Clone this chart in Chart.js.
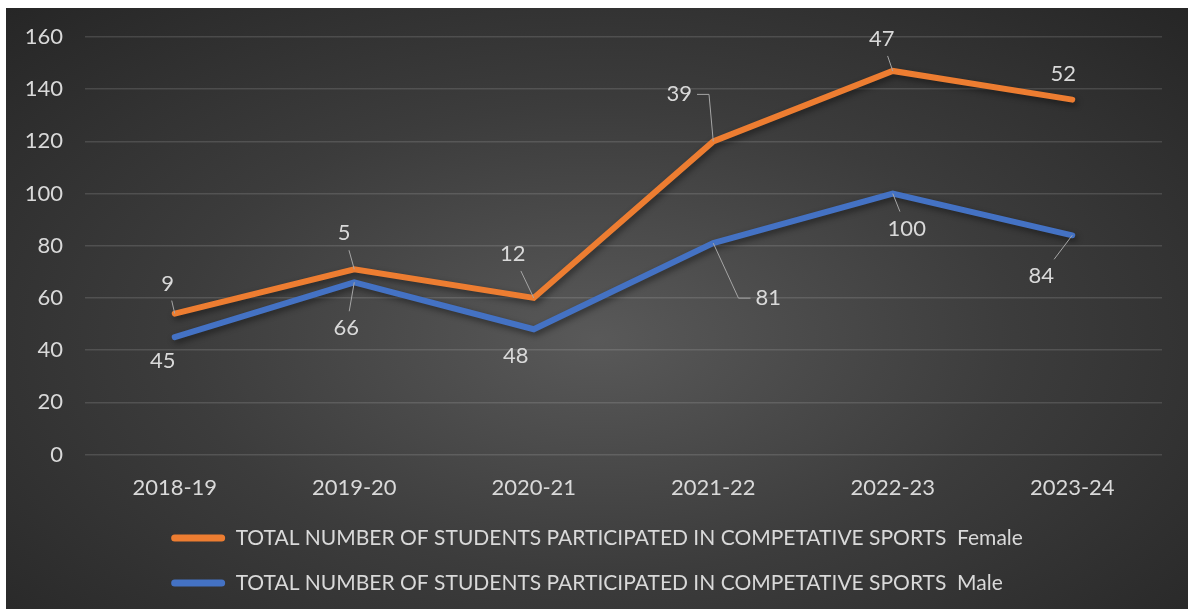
<!DOCTYPE html>
<html>
<head>
<meta charset="utf-8">
<title>Competitive sports participation</title>
<script src="https://cdn.jsdelivr.net/npm/chart.js@4/dist/chart.umd.min.js"></script>
<style>
  html, body { margin: 0; padding: 0; background: #ffffff; }
  #panel {
    position: absolute;
    left: 6px;
    top: 8px;
    width: 1182px;
    height: 601px;
    background: radial-gradient(ellipse farthest-corner at 50% 55%, #595959 0%, #3c3c3c 50%, #262626 100%);
  }
</style>
</head>
<body>
<div id="panel"><canvas id="sportsChart"></canvas></div>
<script>
// Academic years and participant counts
const years = ['2018-19', '2019-20', '2020-21', '2021-22', '2022-23', '2023-24'];
const maleCounts = [45, 66, 48, 81, 100, 84];
const femaleCounts = [9, 5, 12, 39, 47, 52];
const yMin = 0;
const yMax = 160;
const yStep = 20;

const seriesPrefix = 'TOTAL NUMBER OF STUDENTS PARTICIPATED IN COMPETATIVE SPORTS  ';

const textColor = '#d9d9d9';
const fontFamily = 'Lato, "Open Sans", sans-serif';

// label placement relative to its point: [dx, dy, leader]
const maleLabelPos = [[-12, 24, ''], [-8, 46, 'line'], [-18, 27, ''], [55, 55, 'elbow'], [14, 35, 'line'], [-31, 41, 'line']];
const femaleLabelPos = [[-7, -30, 'line'], [-10, -36, 'line'], [-21, -44, 'line'], [-34, -47, 'elbow'], [-11, -32, 'line'], [-9, -26, '']];

// soft drop shadow under the lines
const lineShadow = {
    id: 'lineShadow',
    beforeDatasetsDraw(chart) {
        const ctx = chart.ctx;
        ctx.save();
        ctx.shadowColor = 'rgba(0, 0, 0, 0.45)';
        ctx.shadowBlur = 6;
        ctx.shadowOffsetX = 2;
        ctx.shadowOffsetY = 3;
    },
    afterDatasetsDraw(chart) {
        chart.ctx.restore();
    }
};

// give every legend row the same width so the rows share one left edge
const legendRows = {
    id: 'legendRows',
    afterLayout(chart) {
        const legend = chart.legend;
        if (legend && legend.lineWidths) {
            const widest = Math.max(...legend.lineWidths);
            legend.lineWidths = legend.lineWidths.map(() => widest);
        }
    }
};

// value labels with leader lines
const valueLabels = {
    id: 'valueLabels',
    afterDatasetsDraw(chart, args, opts) {
        const ctx = chart.ctx;
        ctx.save();
        ctx.font = `22px ${fontFamily}`;
        ctx.textAlign = 'center';
        ctx.textBaseline = 'middle';
        chart.data.datasets.forEach((ds, di) => {
            const meta = chart.getDatasetMeta(di);
            const placement = opts.placement[di];
            meta.data.forEach((pt, i) => {
                const [dx, dy, leader] = placement[i];
                const text = String(ds.data[i]);
                const lx = pt.x + dx;
                const ly = pt.y + dy;
                const hw = ctx.measureText(text).width / 2 + 5;
                const hh = 17;
                ctx.strokeStyle = '#a6a6a6';
                ctx.lineWidth = 1;
                if (leader === 'line') {
                    const vx = pt.x - lx;
                    const vy = pt.y - ly;
                    const t = Math.min(hw / Math.max(Math.abs(vx), 1e-6), hh / Math.max(Math.abs(vy), 1e-6));
                    ctx.beginPath();
                    ctx.moveTo(lx + vx * t, ly + vy * t);
                    ctx.lineTo(pt.x, pt.y);
                    ctx.stroke();
                } else if (leader === 'elbow') {
                    const side = Math.sign(pt.x - lx);
                    const sx = lx + side * hw;
                    ctx.beginPath();
                    ctx.moveTo(sx, ly);
                    ctx.lineTo(sx + side * 12, ly);
                    ctx.lineTo(pt.x, pt.y);
                    ctx.stroke();
                }
                ctx.fillStyle = textColor;
                ctx.fillText(text, lx, ly);
            });
        });
        ctx.restore();
    }
};

function initChart() {
    const ctx = document.getElementById('sportsChart').getContext('2d');
    new Chart(ctx, {
        type: 'line',
        data: {
            labels: years,
            datasets: [
                {
                    label: seriesPrefix + 'Male',
                    data: maleCounts,
                    borderColor: '#4472c4',
                    backgroundColor: '#4472c4',
                    borderWidth: 6,
                    borderCapStyle: 'round',
                    pointRadius: 0,
                    tension: 0
                },
                {
                    label: seriesPrefix + 'Female',
                    data: femaleCounts,
                    borderColor: '#ed7d31',
                    backgroundColor: '#ed7d31',
                    borderWidth: 6,
                    borderCapStyle: 'round',
                    pointRadius: 0,
                    tension: 0
                }
            ]
        },
        options: {
            responsive: true,
            maintainAspectRatio: false,
            animation: false,
            layout: { padding: { top: 29, right: 0, bottom: 5.5, left: 0 } },
            plugins: {
                tooltip: { enabled: false },
                legend: {
                    position: 'bottom',
                    reverse: true,
                    labels: {
                        color: textColor,
                        font: { family: fontFamily, size: 21 },
                        boxWidth: 54,
                        boxHeight: 7,
                        useBorderRadius: true,
                        borderRadius: 3.5,
                        padding: 24,
                        generateLabels(chart) {
                            return Chart.defaults.plugins.legend.labels.generateLabels(chart)
                                .map(item => ({ ...item, lineWidth: 0 }));
                        }
                    }
                },
                valueLabels: { placement: [maleLabelPos, femaleLabelPos] }
            },
            scales: {
                x: {
                    offset: true,
                    grid: { display: false, drawTicks: false },
                    border: { display: false },
                    ticks: { color: textColor, font: { family: fontFamily, size: 22 }, padding: 20 },
                    afterFit(scale) { scale.height = 49; }
                },
                y: {
                    stacked: true,
                    min: yMin,
                    max: yMax,
                    border: { display: false },
                    grid: { color: 'rgba(217, 217, 217, 0.16)', lineWidth: 1.5, drawTicks: false },
                    ticks: { stepSize: yStep, color: textColor, font: { family: fontFamily, size: 22 }, padding: 22 },
                    afterFit(scale) {
                        scale.width = 79;
                        scale.paddingTop = 0;
                        scale.paddingBottom = 0;
                    }
                },
                // empty right-hand gutter so the legend stays centred on the full panel
                gutter: {
                    position: 'right',
                    min: yMin,
                    max: yMax,
                    grid: { display: false, drawTicks: false },
                    border: { display: false },
                    ticks: { display: false },
                    afterFit(scale) {
                        scale.width = 26;
                        scale.paddingTop = 0;
                        scale.paddingBottom = 0;
                    }
                }
            }
        },
        plugins: [lineShadow, legendRows, valueLabels]
    });
}

initChart();
</script>
</body>
</html>
